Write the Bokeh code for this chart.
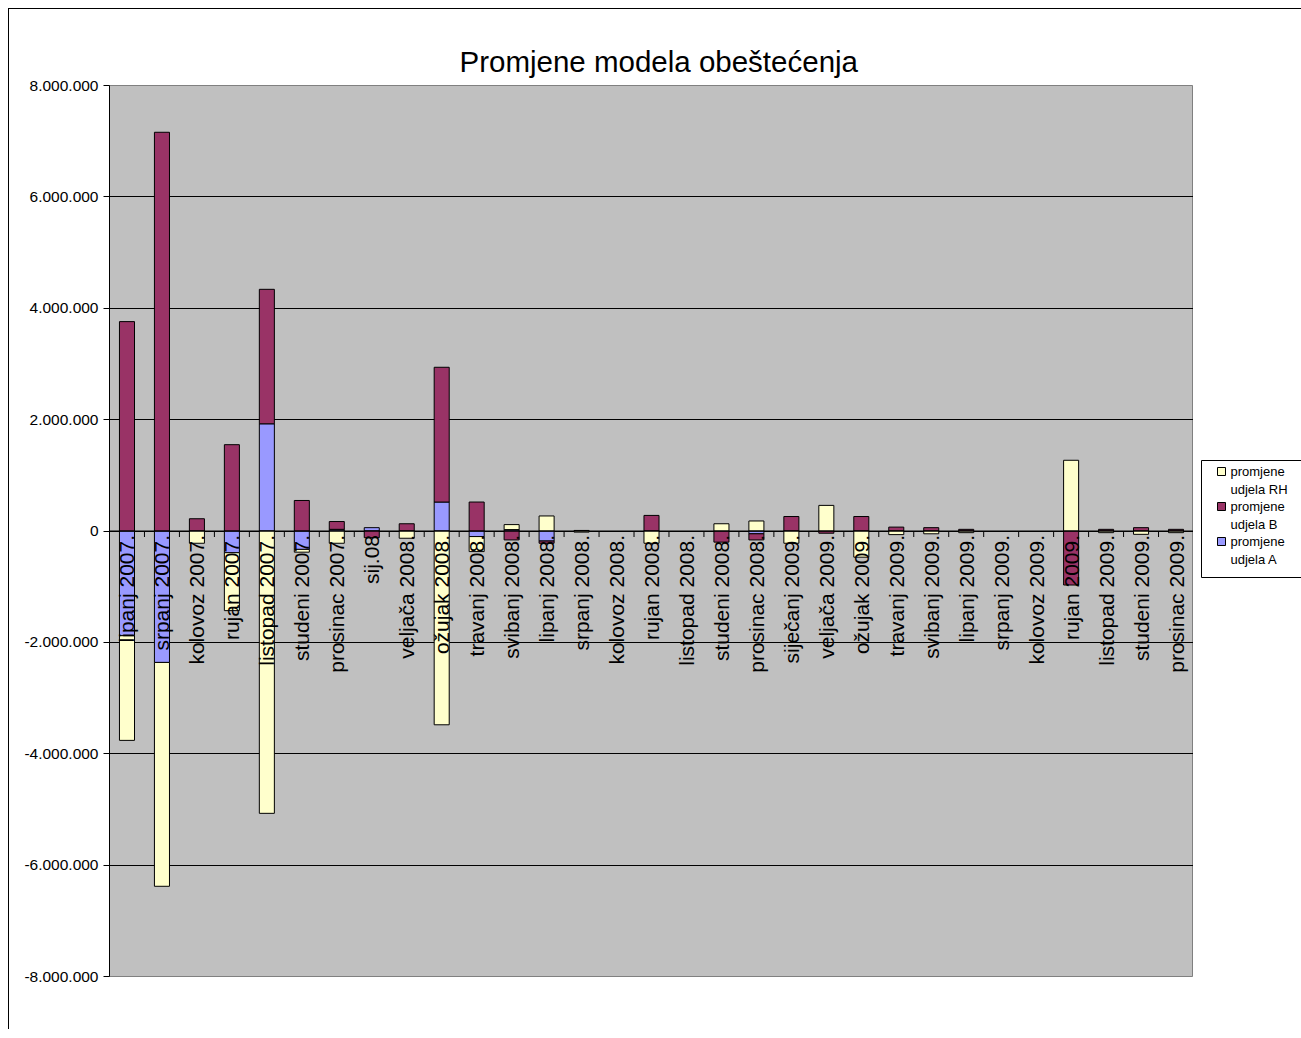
import numpy as np
from bokeh.plotting import figure
from bokeh.layouts import row
from bokeh.models import Range1d, Span, ColumnDataSource
from bokeh.core.properties import value
from bokeh.embed import file_html
from bokeh.resources import INLINE

months = ["lipanj 2007.", "srpanj 2007.", "kolovoz 2007.", "rujan 2007.", "listopad 2007.",
          "studeni 2007.", "prosinac 2007.", "sij.08", "veljača 2008.", "ožujak 2008.",
          "travanj 2008.", "svibanj 2008.", "lipanj 2008.", "srpanj 2008.", "kolovoz 2008.",
          "rujan 2008.", "listopad 2008.", "studeni 2008.", "prosinac 2008.", "siječanj 2009.",
          "veljača 2009.", "ožujak 2009.", "travanj 2009.", "svibanj 2009.", "lipanj 2009.",
          "srpanj 2009.", "kolovoz 2009.", "rujan 2009.", "listopad 2009.", "studeni 2009.",
          "prosinac 2009."]

udjel_A = [-1880000, -2360000, 0, -390000, 1925000,
           -330000, 30000, 60000, 0, 520000,
           -100000, 25000, -180000, 0, 0,
           0, 0, 0, -50000, 0,
           0, 0, 0, 0, 0,
           0, 0, 0, 0, 0,
           0]

udjel_B = [3760000, 7160000, 220000, 1550000, 2415000,
           548000, 140000, -120000, 130000, 2420000,
           520000, -160000, -40000, 10000, 0,
           280000, 0, -200000, -110000, 260000,
           -40000, 260000, 70000, 60000, 30000,
           0, 0, -970000, 30000, 60000,
           30000]

udjel_RH = [-1880000, -4020000, -220000, -1040000, -5070000,
            -50000, -220000, 0, -130000, -3480000,
            -270000, 90000, 270000, -20000, 0,
            -220000, 0, 130000, 180000, -220000,
            460000, -470000, -65000, -50000, -30000,
            0, 0, 1270000, -30000, -60000,
            -30000]

series_names = ["promjene\nudjela A", "promjene\nudjela B", "promjene\nudjela RH"]
series_values = [udjel_A, udjel_B, udjel_RH]
series_colors = ["#9999FF", "#993366", "#FFFFCC"]

tick_values = [-8000000, -6000000, -4000000, -2000000, 0, 2000000, 4000000, 6000000, 8000000]
tick_labels = ["-8.000.000", "-6.000.000", "-4.000.000", "-2.000.000", "0",
               "2.000.000", "4.000.000", "6.000.000", "8.000.000"]

FONT = "Liberation Sans"
n = len(months)
TOP, FRAME_H, BOTTOM = 76, 891, 53

p = figure(frame_width=1084, frame_height=FRAME_H,
           x_range=Range1d(0, n), y_range=Range1d(-8000000, 8000000),
           output_backend="svg", toolbar_location=None,
           min_border_left=100, min_border_right=0,
           min_border_top=TOP, min_border_bottom=BOTTOM)

p.title.text = "Promjene modela obeštećenja"
p.title.text_font = FONT
p.title.text_font_size = "29.5px"
p.title.text_font_style = "normal"
p.title.text_color = "black"
p.title.align = "left"
p.title.offset = 350
p.title.standoff = 16

p.background_fill_color = "#C0C0C0"
p.border_fill_color = "white"
p.outline_line_color = "#808080"
p.xaxis.visible = False
p.xgrid.visible = False
p.ygrid.grid_line_color = "black"
p.ygrid.grid_line_alpha = 1.0
p.yaxis.ticker = tick_values
p.yaxis.major_label_overrides = dict(zip(tick_values, tick_labels))
p.yaxis.minor_tick_line_color = None
p.yaxis.major_tick_in = 0
p.yaxis.major_tick_out = 6
p.yaxis.major_label_standoff = 5
p.yaxis.axis_line_color = "black"
p.yaxis.major_tick_line_color = "black"
p.yaxis.major_label_text_font = FONT
p.yaxis.major_label_text_font_size = "15.5px"
p.yaxis.major_label_text_color = "black"

x_centers = np.arange(n) + 0.5
pos_cum = np.zeros(n)
neg_cum = np.zeros(n)
for name, vals, col in zip(series_names, series_values, series_colors):
    v = np.array(vals, dtype=float)
    bottom = np.where(v >= 0, pos_cum, neg_cum + v)
    top = np.where(v >= 0, pos_cum + v, neg_cum)
    pos_cum = pos_cum + np.where(v > 0, v, 0)
    neg_cum = neg_cum + np.where(v < 0, v, 0)
    mask = v != 0
    src = ColumnDataSource(dict(x=x_centers[mask], bottom=bottom[mask], top=top[mask]))
    p.vbar(x="x", bottom="bottom", top="top", width=0.43, source=src,
           fill_color=col, line_color="black", line_width=1)

# category axis at zero
p.add_layout(Span(location=0, dimension="width", line_color="black", line_width=1))
p.ray(x=np.arange(1, n), y=np.zeros(n - 1), length=6, length_units="screen",
      angle=-np.pi / 2, line_color="black", line_width=1)

lab_src = ColumnDataSource(dict(x=x_centers, y=np.zeros(n), text=months))
p.text(x="x", y="y", text="text", source=lab_src, angle=np.pi / 2, y_offset=4,
       text_align="right", text_baseline="middle", text_font=value(FONT),
       text_font_size="21px", text_color="black")

# legend panel: a small figure beside the chart, same vertical borders,
# coordinates in pixels measured from the frame's bottom-left
LEG_W = 108
leg = figure(frame_width=LEG_W, frame_height=FRAME_H,
             x_range=Range1d(0, LEG_W), y_range=Range1d(0, FRAME_H),
             output_backend="svg", toolbar_location=None,
             min_border_left=0, min_border_right=0,
             min_border_top=TOP, min_border_bottom=BOTTOM)
leg.axis.visible = False
leg.grid.visible = False
leg.outline_line_color = None
leg.background_fill_color = "white"
leg.border_fill_color = "white"

leg.quad(left=[8], right=[112], bottom=[399], top=[516],
         fill_color="white", line_color="black", line_width=1)
leg_names = list(reversed(series_names))
leg_colors = list(reversed(series_colors))
ny = [505 - 35 * i for i in range(len(leg_names))]
leg.rect(x=[28] * len(leg_names), y=ny, width=8, height=8, fill_color=leg_colors,
         line_color="black", line_width=1)
leg.text(x=[37] * len(leg_names), y=[yy + 8 for yy in ny], text=leg_names,
         text_align="left", text_baseline="top", text_font=value(FONT),
         text_font_size="13px", text_line_height=1.24, text_color="black")

layout = row(p, leg, spacing=0)
layout.styles = {"margin-left": "8px", "margin-top": "8px",
                 "border-left": "1px solid black", "border-top": "1px solid black"}
open("out.html", "w").write(file_html(layout, INLINE))
